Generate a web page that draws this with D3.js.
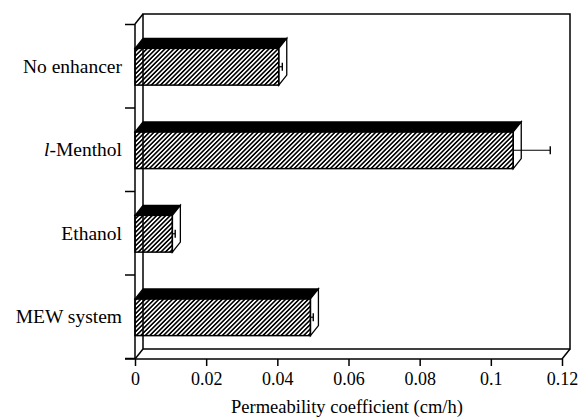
<!DOCTYPE html>
<html>
<head>
<meta charset="utf-8">
<script src="https://cdn.jsdelivr.net/npm/d3@7"></script>
<style>
  body { margin: 0; background: #fff; }
  svg text { fill: #000; }
</style>
</head>
<body>
<script>
// data
const categories = ["No enhancer", "l-Menthol", "Ethanol", "MEW system"];
const values = [0.0404, 0.1063, 0.0105, 0.0493];
const errors = [0.0010, 0.0104, 0.0008, 0.0008];
const xTicks = [0, 0.02, 0.04, 0.06, 0.08, 0.1, 0.12];

const outerWidth = 579, outerHeight = 418;
// front box edges
const box = {left: 135, right: 562, top: 24, bottom: 358};
// depth of the fake 3d box
const dx = 8, dy = -10;
const serif = "'Liberation Serif', Tinos, 'Times New Roman', Times, 'DejaVu Serif', serif";

const svg = d3.select("body").append("svg")
    .attr("width", outerWidth)
    .attr("height", outerHeight)
    .attr("font-family", serif);

const defs = svg.append("defs");
defs.append("pattern")
    .attr("id", "hatch")
    .attr("patternUnits", "userSpaceOnUse")
    .attr("width", 3.2).attr("height", 3.2)
    .attr("patternTransform", "rotate(45)")
    .append("rect")
    .attr("width", 1.6).attr("height", 3.2)
    .attr("fill", "#000");

const xScale = d3.scaleLinear().domain([0, 0.12]).range([box.left, box.right]);
const yBand = d3.scaleBand().domain(categories).range([box.top, box.bottom]);
const yLin = d3.scaleLinear().domain([0, categories.length]).range([box.top, box.bottom]);

const line = (x1, y1, x2, y2, w) => svg.append("line")
    .attr("x1", x1).attr("y1", y1).attr("x2", x2).attr("y2", y2)
    .attr("stroke", "#000").attr("stroke-width", w || 1.5);

// back wall + floor + side wall
svg.append("rect")
    .attr("x", box.left + dx).attr("y", box.top + dy)
    .attr("width", box.right - box.left).attr("height", box.bottom - box.top + 1)
    .attr("fill", "none").attr("stroke", "#000").attr("stroke-width", 1.5);
line(box.left, box.top, box.left + dx, box.top + dy);
line(box.left, box.bottom + 1, box.left + dx, box.bottom + 1 + dy);
line(box.right, box.bottom + 1, box.right + dx, box.bottom + 1 + dy);

// x axis
const xAxis = d3.axisBottom(xScale)
    .tickValues(xTicks)
    .tickSize(7)
    .tickPadding(6)
    .tickFormat(d => d3.format("")(+d.toFixed(2)));
const gx = svg.append("g")
    .attr("transform", `translate(0,${box.bottom + 1})`)
    .call(xAxis)
    .attr("font-family", serif)
    .attr("font-size", 18);
gx.select(".domain").attr("d", `M${box.left - 10},0H${box.right}`).attr("stroke-width", 1.5);
gx.selectAll(".tick line").attr("stroke-width", 1.5);

svg.append("text")
    .attr("x", 347)
    .attr("y", 413)
    .attr("text-anchor", "middle")
    .attr("font-size", 18.5)
    .text("Permeability coefficient (cm/h)");

// y axis: boundary ticks, then category labels
const gy = svg.append("g")
    .attr("transform", `translate(${box.left},0)`)
    .call(d3.axisLeft(yLin).ticks(categories.length).tickSize(10).tickFormat(""));
gy.select(".domain").attr("d", `M0,${box.top}V${box.bottom}`).attr("stroke-width", 1.5);
gy.selectAll(".tick line").attr("stroke-width", 1.5);

const gl = svg.append("g")
    .attr("transform", `translate(${box.left - 13},0)`)
    .call(d3.axisLeft(yBand).tickSize(0).tickPadding(0).tickFormat(""))
    .attr("font-family", serif)
    .attr("font-size", 19.5);
gl.select(".domain").remove();
gl.selectAll(".tick").append("text")
    .attr("text-anchor", "end")
    .attr("dy", "0.35em")
    .each(function(d) {
        const t = d3.select(this);
        if (d.startsWith("l-")) {
            t.append("tspan").attr("font-style", "italic").text("l");
            t.append("tspan").text(d.slice(1));
        } else {
            t.text(d);
        }
    });

// bars
const barH = yBand.bandwidth() * 0.44;
categories.forEach((c, i) => {
    const yc = yBand(c) + yBand.bandwidth() / 2 + 1;
    const y0 = yc - barH / 2, y1 = yc + barH / 2;
    const x0 = xScale(0), x1 = xScale(values[i]);
    // top face
    svg.append("polygon")
        .attr("points", [[x0, y0], [x1, y0], [x1 + dx, y0 + dy], [x0 + dx, y0 + dy]].join(" "))
        .attr("fill", "#000").attr("stroke", "#000").attr("stroke-width", 1.2);
    // side face
    svg.append("polygon")
        .attr("points", [[x1, y0], [x1 + dx, y0 + dy], [x1 + dx, y1 + dy], [x1, y1]].join(" "))
        .attr("fill", "#fff").attr("stroke", "#000").attr("stroke-width", 1.3);
    // front face
    svg.append("rect")
        .attr("x", x0).attr("y", y0)
        .attr("width", x1 - x0).attr("height", y1 - y0)
        .attr("fill", "url(#hatch)").attr("stroke", "#000").attr("stroke-width", 1.5);
    // error bar
    const xe = xScale(values[i] + errors[i]);
    line(x1, yc, xe, yc, 1.2);
    line(xe, yc - 4, xe, yc + 4, 1.4);
});
</script>
</body>
</html>
